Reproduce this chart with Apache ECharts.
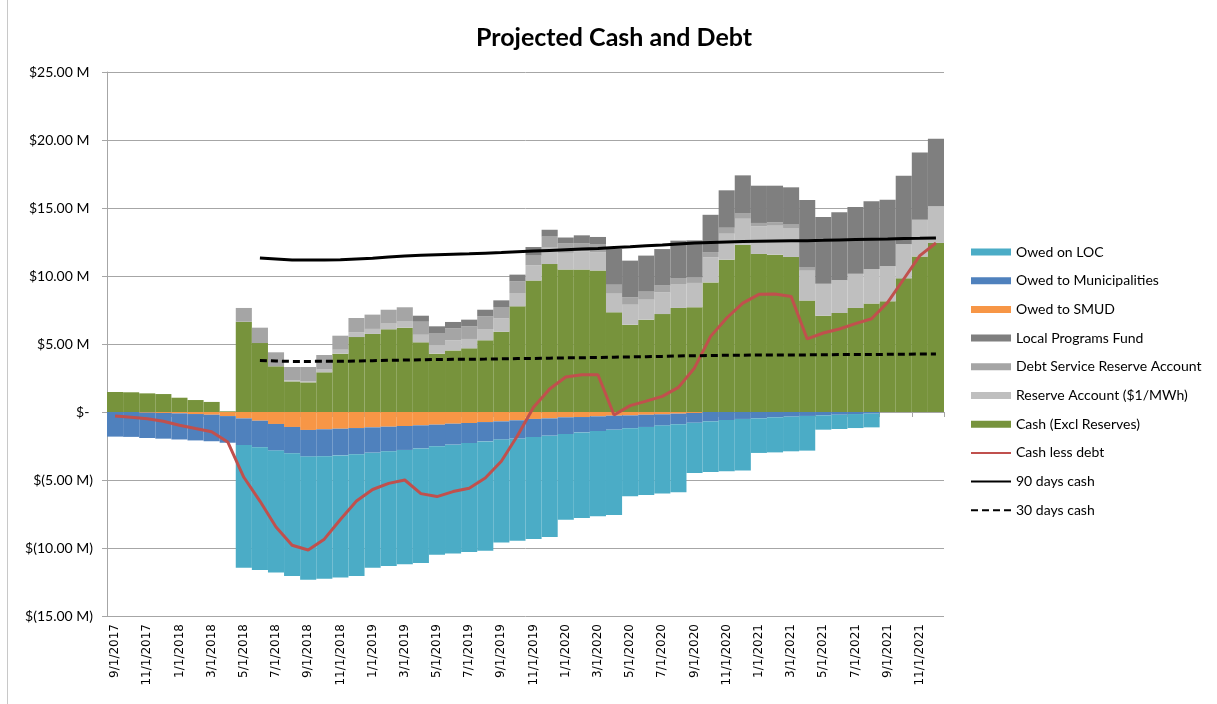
<!DOCTYPE html>
<html>
<head>
<meta charset="utf-8">
<title>Projected Cash and Debt</title>
<script src="https://cdn.jsdelivr.net/npm/echarts@6/dist/echarts.min.js"></script>
<style>
  html, body { margin: 0; padding: 0; background: #fff; }
  #chart { width: 1217px; height: 704px; }
</style>
</head>
<body>
<div id="chart"></div>
<script>
// months on the category axis
const months = [
  '9/1/2017', '10/1/2017', '11/1/2017', '12/1/2017',
  '1/1/2018', '2/1/2018', '3/1/2018', '4/1/2018', '5/1/2018', '6/1/2018',
  '7/1/2018', '8/1/2018', '9/1/2018', '10/1/2018', '11/1/2018', '12/1/2018',
  '1/1/2019', '2/1/2019', '3/1/2019', '4/1/2019', '5/1/2019', '6/1/2019',
  '7/1/2019', '8/1/2019', '9/1/2019', '10/1/2019', '11/1/2019', '12/1/2019',
  '1/1/2020', '2/1/2020', '3/1/2020', '4/1/2020', '5/1/2020', '6/1/2020',
  '7/1/2020', '8/1/2020', '9/1/2020', '10/1/2020', '11/1/2020', '12/1/2020',
  '1/1/2021', '2/1/2021', '3/1/2021', '4/1/2021', '5/1/2021', '6/1/2021',
  '7/1/2021', '8/1/2021', '9/1/2021', '10/1/2021', '11/1/2021', '12/1/2021'
];

// values in $ millions
const cashExclReserves = [
  1.47, 1.45, 1.37, 1.32, 1.05, 0.88, 0.74, 0.05,
  6.64, 5.07, 3.36, 2.25, 2.18, 2.92, 4.29, 5.51,
  5.74, 6.08, 6.20, 5.12, 4.29, 4.53, 4.68, 5.27,
  5.90, 7.77, 9.66, 10.88, 10.47, 10.47, 10.40, 7.33,
  6.42, 6.79, 7.20, 7.65, 7.70, 9.53, 11.20, 12.30,
  11.62, 11.57, 11.40, 8.19, 7.08, 7.28, 7.65, 7.97,
  8.14, 9.83, 11.43, 12.43
];
const reserveAccount = [
  0, 0, 0, 0, 0, 0, 0, 0,
  0, 0, 0, 0.07, 0.07, 0.20, 0.29, 0.34,
  0.37, 0.42, 0.49, 0.56, 0.59, 0.74, 0.69, 0.83,
  0.98, 0.98, 1.13, 1.20, 1.23, 1.35, 1.35, 1.37,
  1.47, 1.47, 1.59, 1.76, 1.79, 1.84, 1.91, 1.91,
  2.03, 2.13, 2.13, 2.20, 2.35, 2.40, 2.52, 2.55,
  2.57, 2.50, 2.70, 2.70
];
const debtServiceReserve = [
  0, 0, 0, 0, 0, 0, 0, 0,
  1.01, 1.13, 1.03, 0.99, 1.06, 1.07, 1.03, 1.06,
  1.05, 1.02, 1.01, 0.96, 0.93, 0.88, 0.93, 0.93,
  0.84, 0.85, 0.71, 0.82, 0.69, 0.60, 0.60, 0.66,
  0.54, 0.59, 0.51, 0.44, 0.39, 0.39, 0.44, 0.42,
  0.25, 0.25, 0.25, 0.27, 0, 0, 0, 0,
  0, 0, 0, 0
];
const localProgramsFund = [
  0, 0, 0, 0, 0, 0, 0, 0,
  0, 0, 0, 0, 0, 0, 0, 0,
  0, 0, 0, 0.44, 0.49, 0.47, 0.49, 0.49,
  0.49, 0.50, 0.63, 0.50, 0.44, 0.57, 0.52, 2.63,
  2.70, 2.65, 2.68, 2.75, 2.74, 2.74, 2.75, 2.77,
  2.74, 2.69, 2.74, 4.93, 4.91, 5.00, 4.90, 4.97,
  4.90, 5.05, 4.96, 4.97
];
const owedSmud = [
  0, 0, -0.05, -0.07, -0.10, -0.15, -0.20, -0.30,
  -0.47, -0.64, -0.88, -1.10, -1.32, -1.27, -1.23, -1.18,
  -1.13, -1.08, -1.03, -0.98, -0.93, -0.86, -0.81, -0.74,
  -0.69, -0.61, -0.51, -0.47, -0.39, -0.37, -0.32, -0.27,
  -0.25, -0.20, -0.17, -0.12, -0.07, 0, 0, 0,
  0, 0, 0, 0, 0, 0, 0, 0,
  0, 0, 0, 0
];
const owedMunicipalities = [
  -1.81, -1.83, -1.86, -1.89, -1.92, -1.94, -1.95, -1.96,
  -1.96, -1.96, -1.96, -1.94, -1.96, -1.99, -1.96, -1.93,
  -1.86, -1.81, -1.76, -1.70, -1.59, -1.54, -1.47, -1.42,
  -1.34, -1.35, -1.33, -1.27, -1.23, -1.13, -1.08, -1.03,
  -0.95, -0.90, -0.83, -0.78, -0.72, -0.69, -0.59, -0.51,
  -0.47, -0.39, -0.34, -0.29, -0.25, -0.20, -0.15, -0.12,
  0, 0, 0, 0
];
const owedLoc = [
  0, 0, 0, 0, 0, 0, 0, 0,
  -9.02, -9.02, -8.97, -9.02, -9.05, -9.00, -8.97, -8.95,
  -8.46, -8.43, -8.41, -8.42, -7.98, -8.00, -8.02, -8.04,
  -7.57, -7.50, -7.50, -7.46, -6.30, -6.29, -6.27, -6.27,
  -5.00, -5.00, -5.00, -5.00, -3.70, -3.72, -3.77, -3.80,
  -2.54, -2.58, -2.55, -2.55, -1.05, -1.05, -1.03, -1.01,
  0, 0, 0, 0
];
const cashLessDebt = [
  -0.30, -0.38, -0.50, -0.68, -0.98, -1.22, -1.45, -2.20,
  -4.80, -6.55, -8.45, -9.80, -10.15, -9.35, -7.90, -6.55,
  -5.70, -5.25, -5.00, -6.00, -6.22, -5.85, -5.60, -4.85,
  -3.62, -1.75, 0.35, 1.69, 2.57, 2.74, 2.74, -0.22,
  0.47, 0.80, 1.15, 1.81, 3.24, 5.56, 6.91, 8.01,
  8.65, 8.68, 8.50, 5.37, 5.81, 6.10, 6.50, 6.86,
  8.06, 9.78, 11.50, 12.43
];
const days90Cash = [
  null, null, null, null, null, null, null, null,
  null, 11.33, 11.25, 11.17, 11.17, 11.18, 11.20, 11.25,
  11.30, 11.40, 11.47, 11.52, 11.57, 11.60, 11.63, 11.68,
  11.72, 11.78, 11.83, 11.88, 11.93, 11.98, 12.03, 12.10,
  12.15, 12.22, 12.28, 12.35, 12.42, 12.46, 12.50, 12.53,
  12.56, 12.58, 12.60, 12.60, 12.62, 12.65, 12.68, 12.70,
  12.72, 12.75, 12.77, 12.80
];
const days30Cash = [
  null, null, null, null, null, null, null, null,
  null, 3.78, 3.75, 3.72, 3.72, 3.73, 3.73, 3.75,
  3.77, 3.80, 3.82, 3.84, 3.86, 3.87, 3.88, 3.89,
  3.91, 3.93, 3.94, 3.96, 3.98, 3.99, 4.01, 4.03,
  4.05, 4.07, 4.09, 4.12, 4.14, 4.15, 4.17, 4.18,
  4.19, 4.19, 4.20, 4.20, 4.21, 4.22, 4.23, 4.23,
  4.24, 4.25, 4.26, 4.27
];

const yTicks = { min: -15, max: 25, interval: 5 };

const font = 'Lato';
const gridColor = '#a6a6a6';

// accounting-style axis labels: $25.00 M, $-, $(5.00 M)
function moneyLabel(v) {
  if (v === 0) return '$- ';
  const s = Math.abs(v).toFixed(2) + ' M';
  return v < 0 ? '$(' + s + ')' : '$' + s + ' ';
}

function bar(name, data, color) {
  return {
    name,
    type: 'bar',
    stack: 'total',
    data,
    barCategoryGap: '0%',
    itemStyle: { color },
    emphasis: { disabled: true }
  };
}

function line(name, data, color, type) {
  return {
    name,
    type: 'line',
    data,
    symbol: 'none',
    connectNulls: false,
    lineStyle: { color, width: 3, type: type || 'solid' },
    itemStyle: { color },
    emphasis: { disabled: true },
    z: 5
  };
}

// legend entry for a line: keep the stroke, hide the marker dot
const lineKey = name => ({ name, itemStyle: { opacity: 0, color: 'rgba(0,0,0,0)', borderWidth: 0 } });

const chart = echarts.init(document.getElementById('chart'));

chart.setOption({
  animation: false,
  backgroundColor: '#fff',
  title: {
    text: 'Projected Cash and Debt',
    left: 609,
    textAlign: 'center',
    top: 20,
    textStyle: { fontFamily: font, fontSize: 25, fontWeight: 'bold', color: '#000' }
  },
  graphic: [{
    type: 'line',
    shape: { x1: 7.5, y1: 0, x2: 7.5, y2: 704 },
    style: { stroke: '#c8c8c8', lineWidth: 1 }
  }],
  legend: {
    orient: 'vertical',
    left: 965,
    top: 240,
    itemWidth: 40,
    itemHeight: 7,
    itemGap: 14.7,
    textStyle: { fontFamily: font, fontSize: 14, color: '#000' },
    data: [
      { name: 'Owed on LOC', icon: 'rect' },
      { name: 'Owed to Municipalities', icon: 'rect' },
      { name: 'Owed to SMUD', icon: 'rect' },
      { name: 'Local Programs Fund', icon: 'rect' },
      { name: 'Debt Service Reserve Account', icon: 'rect' },
      { name: 'Reserve Account ($1/MWh)', icon: 'rect' },
      { name: 'Cash (Excl Reserves)', icon: 'rect' },
      lineKey('Cash less debt'),
      lineKey('90 days cash'),
      lineKey('30 days cash')
    ]
  },
  grid: { left: 107, right: 273, top: 72, bottom: 88, containLabel: false },
  xAxis: [
    {
      type: 'category',
      data: months,
      position: 'bottom',
      axisLine: { show: false, onZero: false },
      axisTick: { show: false },
      axisLabel: {
        interval: 1,
        rotate: 90,
        margin: 8,
        fontFamily: 'DejaVu Sans',
        fontSize: 12,
        color: '#000'
      },
      splitLine: { show: false }
    },
    {
      type: 'category',
      data: months,
      position: 'bottom',
      axisLine: { show: true, onZero: true, onZeroAxisIndex: 0, lineStyle: { color: gridColor, width: 1 } },
      axisTick: { show: true, interval: 1, length: 5, lineStyle: { color: gridColor } },
      axisLabel: { show: false },
      splitLine: { show: false }
    }
  ],
  yAxis: {
    type: 'value',
    min: yTicks.min,
    max: yTicks.max,
    interval: yTicks.interval,
    axisLine: { show: true, lineStyle: { color: gridColor } },
    axisTick: { show: true, length: 5, lineStyle: { color: gridColor } },
    axisLabel: {
      margin: 14,
      fontFamily: font,
      fontSize: 14,
      color: '#000',
      formatter: moneyLabel
    },
    splitLine: { show: true, lineStyle: { color: gridColor, width: 1 } }
  },
  series: [
    bar('Cash (Excl Reserves)', cashExclReserves, '#77933c'),
    bar('Reserve Account ($1/MWh)', reserveAccount, '#bfbfbf'),
    bar('Debt Service Reserve Account', debtServiceReserve, '#a5a5a5'),
    bar('Local Programs Fund', localProgramsFund, '#7f7f7f'),
    bar('Owed to SMUD', owedSmud, '#f79646'),
    bar('Owed to Municipalities', owedMunicipalities, '#4f81bd'),
    bar('Owed on LOC', owedLoc, '#4bacc6'),
    line('Cash less debt', cashLessDebt, '#c0504d'),
    line('90 days cash', days90Cash, '#000000'),
    line('30 days cash', days30Cash, '#000000', [7, 4])
  ]
});

window.addEventListener('resize', () => chart.resize());
</script>
</body>
</html>
